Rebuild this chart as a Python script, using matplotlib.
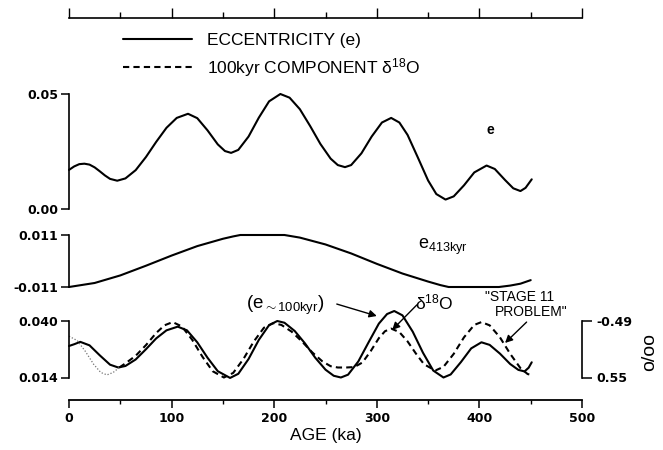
import matplotlib
matplotlib.use('Agg')
import matplotlib.pyplot as plt
from matplotlib.ticker import MultipleLocator

plt.rcParams['font.family'] = ['Liberation Sans', 'DejaVu Sans']
plt.rcParams['mathtext.fontset'] = 'custom'
plt.rcParams['mathtext.rm'] = 'Liberation Sans'
plt.rcParams['mathtext.it'] = 'Liberation Sans:italic'
plt.rcParams['axes.unicode_minus'] = False

# eccentricity (top panel)
ecc_age = [0, 5, 10, 15, 20, 25, 30, 35, 40, 47, 55, 65, 75, 85, 95, 105, 116,
           125, 135, 145, 152, 158, 165, 175, 185, 195, 206, 215, 225, 235, 245,
           255, 262, 269, 275, 285, 295, 305, 314, 322, 330, 340, 350, 358, 367,
           375, 385, 395, 407, 415, 425, 433, 440, 445, 451]
ecc_val = [0.0170, 0.0185, 0.0195, 0.0197, 0.0193, 0.0181, 0.0164, 0.0146, 0.0131,
           0.0123, 0.0133, 0.0169, 0.0226, 0.0292, 0.0353, 0.0396, 0.0414, 0.0395,
           0.0342, 0.0281, 0.0252, 0.0244, 0.0257, 0.0315, 0.0397, 0.0468, 0.0500,
           0.0484, 0.0434, 0.0361, 0.0283, 0.0219, 0.0191, 0.0182, 0.0191, 0.0242,
           0.0315, 0.0376, 0.0396, 0.0376, 0.0322, 0.0224, 0.0124, 0.0065, 0.0041,
           0.0055, 0.0103, 0.0159, 0.0189, 0.0174, 0.0126, 0.0090, 0.0078, 0.0092,
           0.0129]

# 413 kyr component (middle panel)
e413_age = [0, 25, 50, 75, 100, 125, 150, 160, 167, 175, 190, 200, 210, 225, 250,
            275, 300, 325, 350, 362, 370, 385, 400, 419, 430, 440, 450]
e413_val = [-0.0110, -0.0093, -0.0061, -0.0020, 0.0023, 0.0063, 0.0094, 0.0104,
            0.0110, 0.0110, 0.0110, 0.0110, 0.0110, 0.0099, 0.0070, 0.0032,
            -0.0012, -0.0053, -0.0087, -0.0102, -0.0110, -0.0110, -0.0110,
            -0.0110, -0.0104, -0.0096, -0.0081]

# ~100 kyr eccentricity (bottom panel, solid)
e100_age = [0, 5, 11, 20, 30, 40, 48, 55, 65, 75, 85, 95, 106, 115, 125, 135, 145,
            157, 165, 175, 185, 195, 203, 210, 220, 230, 240, 250, 258, 265, 272,
            282, 292, 302, 310, 317, 325, 335, 345, 355, 365, 372, 382, 392, 402,
            410, 420, 430, 438, 444, 448, 451]
e100_val = [0.0285, 0.0293, 0.0304, 0.0288, 0.0242, 0.0199, 0.0186, 0.0193, 0.0223,
            0.0270, 0.0320, 0.0357, 0.0374, 0.0357, 0.0302, 0.0231, 0.0169, 0.0138,
            0.0157, 0.0225, 0.0313, 0.0381, 0.0400, 0.0392, 0.0354, 0.0297, 0.0231,
            0.0176, 0.0148, 0.0140, 0.0153, 0.0214, 0.0302, 0.0388, 0.0432, 0.0446,
            0.0426, 0.0351, 0.0254, 0.0172, 0.0140, 0.0154, 0.0211, 0.0274, 0.0302,
            0.0290, 0.0250, 0.0202, 0.0175, 0.0168, 0.0185, 0.0210]

# 100 kyr component of d18O (bottom panel, dashed)
d18_age = [0, 8, 16, 24, 31, 37, 43, 49, 55, 65, 75, 85, 93, 101, 110, 120, 130,
           140, 151, 160, 170, 180, 190, 199, 207, 217, 227, 237, 247, 255, 262,
           270, 278, 286, 294, 302, 308, 314, 322, 330, 338, 346, 357, 365, 375,
           385, 395, 402, 410, 420, 430, 440, 447, 452]
d18_val = [0.0330, 0.0310, 0.0260, 0.0201, 0.0163, 0.0152, 0.0163, 0.0186, 0.0205,
           0.0240, 0.0289, 0.0345, 0.0380, 0.0395, 0.0375, 0.0314, 0.0236, 0.0169,
           0.0140, 0.0161, 0.0225, 0.0305, 0.0369, 0.0390, 0.0382, 0.0351, 0.0306,
           0.0256, 0.0214, 0.0192, 0.0186, 0.0186, 0.0188, 0.0209, 0.0261, 0.0321,
           0.0353, 0.0365, 0.0349, 0.0306, 0.0251, 0.0201, 0.0172, 0.0189, 0.0249,
           0.0325, 0.0382, 0.0395, 0.0380, 0.0325, 0.0249, 0.0183, 0.0156, 0.0150]
d18_dotted_until = 49

W, H = 663, 450
fig = plt.figure(figsize=(W / 100, H / 100), dpi=100)


def box(top, bottom):
    return [69 / W, 1 - bottom / H, 513 / W, (bottom - top) / H]


tickfont = dict(family='DejaVu Sans', weight='bold', size=9)
lw = 1.5
dash = (3, 2)
line_kw = dict(color='k', lw=lw, clip_on=False, solid_joinstyle='round',
               solid_capstyle='round')

ax1 = fig.add_axes(box(94, 209))
ax2 = fig.add_axes(box(235, 287))
ax3 = fig.add_axes(box(321, 377.5))
ruler = fig.add_axes(box(18.3, 18.4))

for ax in (ax1, ax2, ax3, ruler):
    ax.set_xlim(0, 500)
    ax.patch.set_visible(False)
    for s in ('top', 'right', 'bottom'):
        ax.spines[s].set_visible(False)
    ax.spines['left'].set_linewidth(1.2)
    ax.tick_params(axis='y', direction='out', length=6, width=1.1, pad=2)
    ax.set_xticks([])

# top panel
l_ecc, = ax1.plot(ecc_age, ecc_val, **line_kw)
ax1.set_ylim(0, 0.05)
ax1.set_yticks([0.0, 0.05], ['0.00', '0.05'], **tickfont)
ax1.text(411, 0.0343, 'e', ha='center', va='center', fontsize=10, fontweight='bold')

# middle panel
ax2.plot(e413_age, e413_val, **line_kw)
ax2.set_ylim(-0.011, 0.011)
ax2.set_yticks([-0.011, 0.011], ['-0.011', '0.011'], **tickfont)
ax2.text(340, 0.0058, r'e$_{\mathrm{413kyr}}$', ha='left', va='center', fontsize=13)

# bottom panel
ax3.plot(e100_age, e100_val, **line_kw)
n = sum(a < d18_dotted_until for a in d18_age) + 1
ax3.plot(d18_age[:n], d18_val[:n], color='0.45', lw=0.9, ls=(0, (1, 1.5)), clip_on=False)
l_d18, = ax3.plot(d18_age[n - 1:], d18_val[n - 1:], color='k', lw=lw, dashes=dash,
                  clip_on=False)
ax3.set_ylim(0.014, 0.040)
ax3.set_yticks([0.014, 0.040], ['0.014', '0.040'], **tickfont)

ax3.spines['bottom'].set_visible(True)
ax3.spines['bottom'].set_position(('outward', 16.2))
ax3.spines['bottom'].set_linewidth(1.3)
ax3.xaxis.set_major_locator(MultipleLocator(100))
ax3.xaxis.set_minor_locator(MultipleLocator(50))
ax3.tick_params(axis='x', which='major', direction='out', length=6, width=1.1, pad=3)
ax3.tick_params(axis='x', which='minor', direction='out', length=3, width=1.0)
for lab in ax3.get_xticklabels():
    lab.set(**tickfont)
ax3.set_xlabel('AGE (ka)', fontsize=12.5, labelpad=2)

axr = ax3.twinx()
axr.set_ylim(ax3.get_ylim())
for s in ('top', 'left', 'bottom'):
    axr.spines[s].set_visible(False)
axr.spines['right'].set_linewidth(1.2)
axr.set_yticks([0.014, 0.040], ['0.55', '-0.49'], **tickfont)
axr.tick_params(axis='y', direction='out', length=7, width=1.1, pad=3)
fig.text(650 / W, 1 - 352 / H, 'o/oo', rotation=90, ha='center', va='center', fontsize=14)

arrow = dict(arrowstyle='-|>', color='k', lw=1.0, mutation_scale=11, shrinkA=0, shrinkB=0)
ax3.text(211, 0.0474, r'(e$_{\mathrm{\sim100kyr}}$)', ha='center', va='center', fontsize=13.5)
ax3.annotate('', xy=(300, 0.0423), xytext=(261, 0.0478), arrowprops=arrow,
             annotation_clip=False)
ax3.text(337, 0.0487, r'$\mathrm{\delta}^{\mathrm{18}}$O', ha='left', va='center', fontsize=12.5)
ax3.annotate('', xy=(315, 0.0359), xytext=(339, 0.0474), arrowprops=arrow,
             annotation_clip=False)
ax3.text(405, 0.0510, '"STAGE 11', ha='left', va='center', fontsize=10)
ax3.text(415, 0.0441, 'PROBLEM"', ha='left', va='center', fontsize=10)
ax3.annotate('', xy=(425, 0.0299), xytext=(446, 0.0395), arrowprops=arrow,
             annotation_clip=False)

# top ruler
ruler.spines['left'].set_visible(False)
ruler.spines['bottom'].set_visible(True)
ruler.spines['bottom'].set_linewidth(1.2)
ruler.set_yticks([])
ruler.xaxis.set_major_locator(MultipleLocator(100))
ruler.xaxis.set_minor_locator(MultipleLocator(50))
ruler.tick_params(axis='x', which='major', direction='in', length=7, width=1.0,
                  labelbottom=False)
ruler.tick_params(axis='x', which='minor', direction='in', length=4, width=1.0)

fig.legend([l_ecc, l_d18], ['ECCENTRICITY (e)', r'100kyr COMPONENT $\mathrm{\delta}^{\mathrm{18}}$O'],
           loc='upper left', bbox_to_anchor=(123 / W, 1 - 33 / H), frameon=False,
           fontsize=12.5, handlelength=3.95, handletextpad=0.9, labelspacing=0.45,
           borderpad=0, borderaxespad=0)

fig.savefig('out.png', dpi=100)
